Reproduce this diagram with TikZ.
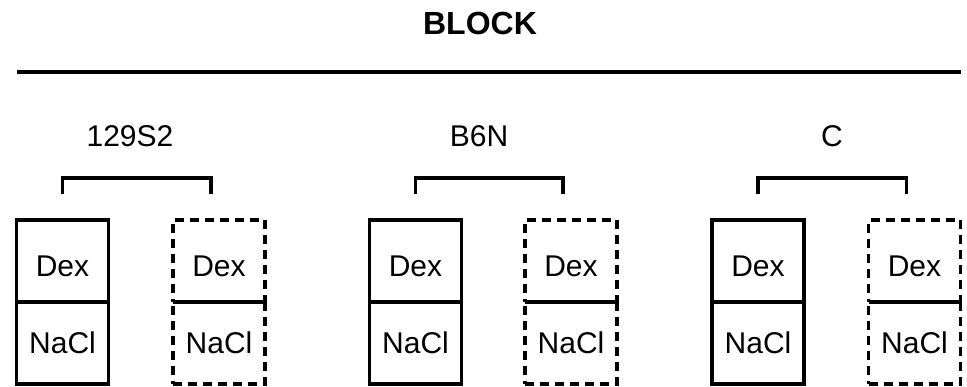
\documentclass[tikz,border=0pt]{standalone}
\usepackage{fontspec}
\setmainfont{Liberation Sans}
\usepackage{tikz}
\usetikzlibrary{positioning}
\newcommand{\cellfont}{\fontsize{30}{36}\selectfont}
\newcommand{\headfont}{\fontsize{32}{38}\selectfont\bfseries}

\begin{document}
\begin{tikzpicture}[x=1pt,y=1pt,
  cell/.style={draw,line width=3.3pt,minimum width=92pt,minimum height=82pt,
               inner sep=0pt,outer sep=0pt,font=\cellfont},
  dcell/.style={cell,dash pattern=on 9pt off 6pt},
  topcell/.style={text height=32pt},
  brk/.style={line width=3.3pt},
  lbl/.style={font=\cellfont,anchor=base}]
  \useasboundingbox (0,0) rectangle (967,387);

  \node[font=\headfont,anchor=base](head) at (480,352) {BLOCK};
  \coordinate (rl) at (17,315);
  \coordinate (rr) at (961,315);
  \draw[line width=3.5pt](rl) -- (rr);

  \foreach \n/\lab/\sx/\dx/\lx in {1/129S2/62.5/219/130,
                                   2/B6N/415.5/571/479,
                                   3/C/758/914.5/832}{
    \node[lbl](lab\n) at (\lx,240) {\lab};
    % solid pair
    \node[cell,topcell](stop\n) at (\sx,126) {Dex};
    \node[cell,below=0pt of stop\n](sbot\n) {NaCl};
    % dashed pair
    \node[dcell,topcell](dtop\n) at (\dx,126) {Dex};
    \node[dcell,below=0pt of dtop\n](dbot\n) {NaCl};
    \draw[line width=3.3pt,shorten <=2pt,shorten >=2pt]
      (dtop\n.south west) -- (dtop\n.south east);
    % bracket
    \draw[brk]([yshift=26pt]stop\n.north) -- ++(0,16)
      -| ([xshift=-8pt,yshift=26pt]dtop\n.north);
  }
\end{tikzpicture}
\end{document}
